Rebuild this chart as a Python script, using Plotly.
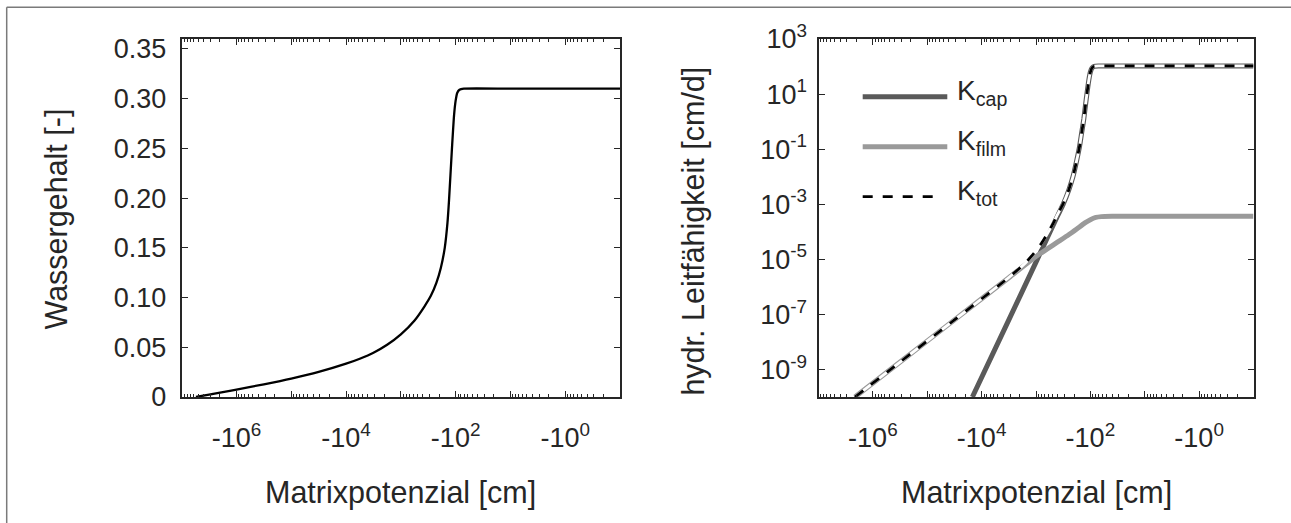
import plotly.graph_objects as go

# ---------------- data ----------------
# left panel: water content vs matric potential [cm]
psi_theta = [-5.5e6, -3.16e6, -1.58e6, -1.0e6, -3.16e5, -1.0e5, -3.16e4,
             -1.0e4, -5.62e3, -3.16e3, -1.78e3, -1.0e3, -562, -372, -282,
             -224, -186, -158, -141, -132, -117, -107, -100, -93.3, -85.1,
             -70.8, -10, -1, -0.1]
theta = [0.0, 0.0025, 0.0055, 0.0075, 0.0128, 0.0185, 0.0252,
         0.0335, 0.0385, 0.0445, 0.0525, 0.063, 0.077, 0.091, 0.102,
         0.115, 0.13, 0.15, 0.175, 0.198, 0.249, 0.283, 0.298, 0.306, 0.309,
         0.310, 0.310, 0.310, 0.310]

# right panel: hydraulic conductivity components [cm/d]
psi_cap = [-1.48e4, -3.16e3, -1.0e3, -631, -398, -316, -251, -209, -178,
           -158, -145, -132, -123, -115, -107, -100, -93.3, -85.1, -70.8,
           -10, -1, -0.1]
K_cap = [1.0e-10, 6.31e-8, 7.94e-6, 5.62e-5, 3.89e-4, 1.0e-3, 3.16e-3,
         1.0e-2, 3.98e-2, 0.126, 0.38, 1.26, 3.98, 11.2, 31.6, 63.1, 89.1,
         102.0, 105.0, 105.0, 105.0, 105.0]

psi_film = [-2.14e6, -3.16e5, -3.16e4, -3.16e3, -1.0e3, -631, -398, -251,
            -178, -126, -100, -79.4, -63.1, -39.8, -10, -1, -0.1]
K_film = [1.0e-10, 1.86e-9, 6.31e-8, 2.14e-6, 1.26e-5, 2.34e-5, 4.27e-5,
          7.76e-5, 1.26e-4, 2.09e-4, 2.75e-4, 3.31e-4, 3.55e-4, 3.63e-4,
          3.63e-4, 3.63e-4, 3.63e-4]

psi_tot = [-2.14e6, -3.16e5, -3.16e4, -3.16e3, -1.58e3, -1.0e3, -794, -631,
           -501, -398, -316, -251, -209, -178, -158, -145, -132, -123, -115,
           -107, -100, -93.3, -85.1, -70.8, -10, -1, -0.1]
K_tot = [1.0e-10, 1.86e-9, 6.31e-8, 2.19e-6, 7.24e-6, 2.04e-5, 3.8e-5,
         7.94e-5, 1.78e-4, 4.37e-4, 1.05e-3, 3.24e-3, 1.01e-2, 3.99e-2,
         0.126, 0.38, 1.26, 3.98, 11.2, 31.6, 63.1, 89.1, 102.0, 105.0,
         105.0, 105.0, 105.0]

# axis ticks
x_tick_vals = [1e7, 1e6, 1e5, 1e4, 1e3, 1e2, 1e1, 1e0, 1e-1]
x_tick_text = ["", "-10<sup>6</sup>", "", "-10<sup>4</sup>", "",
               "-10<sup>2</sup>", "", "-10<sup>0</sup>", ""]
theta_tick_vals = [0, 0.05, 0.10, 0.15, 0.20, 0.25, 0.30, 0.35]
theta_tick_text = ["0", "0.05", "0.10", "0.15", "0.20", "0.25", "0.30", "0.35"]
K_tick_vals = [1e3, 1e1, 1e-1, 1e-3, 1e-5, 1e-7, 1e-9]
K_tick_text = ["10<sup>3</sup>", "10<sup>1</sup>", "10<sup>-1</sup>",
               "10<sup>-3</sup>", "10<sup>-5</sup>", "10<sup>-7</sup>",
               "10<sup>-9</sup>"]
legend_names = ["K<sub>cap</sub>", "K<sub>film</sub>", "K<sub>tot</sub>"]

# ---------------- styling ----------------
W, H = 1291, 523
FONT = "Liberation Sans, Arial, sans-serif"
TXT = "#262626"
AX = "#262626"
C_CAP = "#5a5a5a"
C_FILM = "#9a9a9a"
DASH = "10px,10px"


def fx(p):
    return p / W


def fy(p):
    return 1 - p / H


minor_vals = [m * 10 ** k for k in range(-1, 7) for m in range(2, 10)]

fig = go.Figure()

fig.add_trace(go.Scatter(x=[-v for v in psi_theta], y=theta, mode="lines",
                         line=dict(color="black", width=2.3, shape="spline",
                                   smoothing=0.6),
                         xaxis="x", yaxis="y", showlegend=False))

fig.add_trace(go.Scatter(x=[-v for v in psi_cap], y=K_cap, mode="lines",
                         line=dict(color=C_CAP, width=5, shape="spline",
                                   smoothing=0.5),
                         xaxis="x2", yaxis="y2", showlegend=False))
fig.add_trace(go.Scatter(x=[-v for v in psi_film], y=K_film, mode="lines",
                         line=dict(color=C_FILM, width=5, shape="spline",
                                   smoothing=0.5),
                         xaxis="x2", yaxis="y2", showlegend=False))
fig.add_trace(go.Scatter(x=[-v for v in psi_tot], y=K_tot, mode="lines",
                         line=dict(color="white", width=2.8, shape="spline",
                                   smoothing=0.5),
                         xaxis="x2", yaxis="y2", showlegend=False))
fig.add_trace(go.Scatter(x=[-v for v in psi_tot], y=K_tot, mode="lines",
                         line=dict(color="black", width=2.8, shape="spline",
                                   smoothing=0.5, dash=DASH),
                         xaxis="x2", yaxis="y2", showlegend=False))

xcommon = dict(type="log", range=[7, -1], tickmode="array",
               tickvals=x_tick_vals, ticktext=x_tick_text,
               ticks="inside", ticklen=6, tickwidth=1.2, tickcolor=AX,
               showline=True, linecolor=AX, linewidth=2, mirror="ticks",
               showgrid=False, zeroline=False, automargin=False,
               tickfont=dict(family=FONT, size=27, color=TXT),
               ticklabelstandoff=16,
               minor=dict(tickmode="array", tickvals=minor_vals,
                          ticks="inside", ticklen=3, tickwidth=1,
                          tickcolor=AX, showgrid=False))

ycommon = dict(ticks="inside", ticklen=6, tickwidth=1.2, tickcolor=AX,
               showline=True, linecolor=AX, linewidth=2, mirror="ticks",
               showgrid=False, zeroline=False, automargin=False,
               tickfont=dict(family=FONT, size=27, color=TXT))

dom_y = [fy(397), fy(39)]

fig.update_layout(
    width=W, height=H,
    margin=dict(l=0, r=0, t=0, b=0),
    paper_bgcolor="white", plot_bgcolor="white",
    xaxis=dict(domain=[fx(181.7), fx(620)], anchor="y", **xcommon),
    yaxis=dict(domain=dom_y, anchor="x", range=[0, 0.36], tickmode="array",
               tickvals=theta_tick_vals, ticktext=theta_tick_text,
               ticklabelstandoff=8, **ycommon),
    xaxis2=dict(domain=[fx(818.5), fx(1253.5)], anchor="y2", **xcommon),
    yaxis2=dict(domain=dom_y, anchor="x2", type="log", range=[-10, 3],
                tickmode="array", tickvals=K_tick_vals, ticktext=K_tick_text,
                ticklabelstandoff=4, **ycommon),
)

title_font = dict(family=FONT, size=30.5, color=TXT)
ann = [
    dict(text="Matrixpotenzial [cm]", x=fx((181.7 + 620) / 2), y=fy(492),
         xref="paper", yref="paper", showarrow=False, font=title_font,
         xanchor="center", yanchor="middle"),
    dict(text="Matrixpotenzial [cm]", x=fx((818.5 + 1253.5) / 2), y=fy(492),
         xref="paper", yref="paper", showarrow=False, font=title_font,
         xanchor="center", yanchor="middle"),
    dict(text="Wassergehalt [-]", x=fx(56), y=fy(218.5), textangle=-90,
         xref="paper", yref="paper", showarrow=False, font=title_font,
         xanchor="center", yanchor="middle"),
    dict(text="hydr. Leitfähigkeit [cm/d]", x=fx(692.6), y=fy(231),
         textangle=-90, xref="paper", yref="paper", showarrow=False,
         font=title_font, xanchor="center", yanchor="middle"),
]
leg_y = [96.7, 146.7, 196.7]
for name, yy in zip(legend_names, leg_y):
    ann.append(dict(text=name, x=fx(955), y=fy(yy - 4), xref="paper",
                    yref="paper", showarrow=False, xanchor="left",
                    yanchor="middle",
                    font=dict(family=FONT, size=28, color=TXT)))

shapes = [
    # outer frame (top and left edges)
    dict(type="line", xref="paper", yref="paper", x0=fx(6.7), x1=1,
         y0=fy(7.3), y1=fy(7.3), line=dict(color="#7a7a7a", width=1.5)),
    dict(type="line", xref="paper", yref="paper", x0=fx(6.7), x1=fx(6.7),
         y0=0, y1=fy(7.3), line=dict(color="#7a7a7a", width=1.5)),
    # legend samples
    dict(type="line", xref="paper", yref="paper", x0=fx(862.7), x1=fx(947.3),
         y0=fy(leg_y[0]), y1=fy(leg_y[0]), line=dict(color=C_CAP, width=5)),
    dict(type="line", xref="paper", yref="paper", x0=fx(862.7), x1=fx(947.3),
         y0=fy(leg_y[1]), y1=fy(leg_y[1]), line=dict(color=C_FILM, width=5)),
    dict(type="line", xref="paper", yref="paper", x0=fx(862.7), x1=fx(938),
         y0=fy(leg_y[2]), y1=fy(leg_y[2]),
         line=dict(color="black", width=2.8, dash=DASH)),
]
fig.update_layout(annotations=ann, shapes=shapes)

fig.write_html(
    "out.html",
    config={"displayModeBar": False},
    post_script="document.body.style.margin='0';"
                "document.body.style.padding='0';"
                "document.body.style.overflow='hidden';",
)
